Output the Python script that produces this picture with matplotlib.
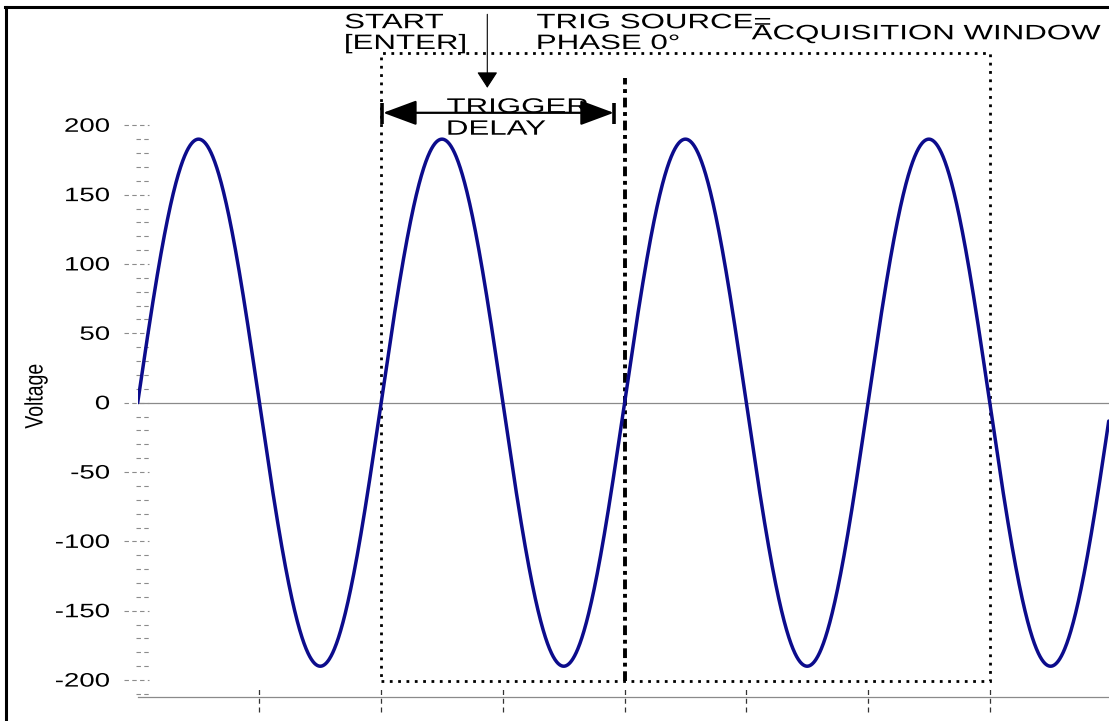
import numpy as np
import matplotlib
matplotlib.use("Agg")
import matplotlib.pyplot as plt
from matplotlib.patches import Rectangle
from matplotlib.lines import Line2D
from matplotlib.patheffects import AbstractPathEffect
from matplotlib.transforms import Affine2D

# ---------------- data ----------------
AMPLITUDE = 190          # volts (peak)
PHASE_END = 1436         # degrees shown on the x axis
phase_deg = np.linspace(0, PHASE_END, 2873)
voltage = AMPLITUDE * np.sin(np.deg2rad(phase_deg))

y_major = [-200, -150, -100, -50, 0, 50, 100, 150, 200]
y_minor = [v for v in range(-210, 200, 10) if v % 50 != 0]
x_ticks = [180, 360, 540, 720, 900, 1080, 1260]

window_phase = [360, 1260]       # acquisition window
window_volt = [-201, 252]
trigger_phase = 720              # trig source phase 0
trigger_top = 234
delay_phase = [362, 705]         # trigger delay
delay_level = 209
start_arrow_phase = 517
start_arrow_volt = [280, 227]

W, H = 1109, 721


class HStretch(AbstractPathEffect):
    """Draw text glyphs stretched horizontally (text stays a Text artist)."""
    def __init__(self, sx=1.42, anchor="left"):
        super().__init__()
        self._sx = sx
        self._anchor = anchor

    def draw_path(self, renderer, gc, tpath, affine, rgbFace=None):
        ext = tpath.get_extents(affine)
        if self._anchor == "left":
            a = ext.x0
        elif self._anchor == "right":
            a = ext.x1
        else:
            a = 0.5 * (ext.x0 + ext.x1)
        t = affine + Affine2D().translate(-a, 0).scale(self._sx, 1).translate(a, 0)
        renderer.draw_path(gc, tpath, t, rgbFace)


plt.rcParams["font.family"] = ["Liberation Sans", "DejaVu Sans"]

fig = plt.figure(figsize=(W / 100, H / 100), dpi=100)
ax = fig.add_axes([137.7 / W, (H - 697) / H, (W - 137.7) / W, (697 - 6) / H])
ax.set_xlim(0, 1436.4)
ax.set_ylim(-212.2, 286)

# waveform
ax.plot(phase_deg, voltage, color="#0c0c8c", lw=2.5, solid_capstyle="round", zorder=3)
ax.axhline(0, color="#8a8a8a", lw=0.9, zorder=1)

# spines
for s in ["left", "top", "right"]:
    ax.spines[s].set_visible(False)
ax.spines["bottom"].set_color("#8a8a8a")
ax.spines["bottom"].set_linewidth(0.9)

# ticks (drawn as dashed marks)
ax.set_yticks(y_major)
ax.set_yticklabels([str(v) for v in y_major])
ax.tick_params(axis="y", length=0, pad=20, labelsize=14)
ax.set_xticks(x_ticks)
ax.set_xticklabels([])
ax.tick_params(axis="x", length=0)
for lbl in ax.get_yticklabels():
    lbl.set_path_effects([HStretch(1.42, "right")])

axw = W - 137.7
axh = 691
yt = ax.get_yaxis_transform()
xt = ax.get_xaxis_transform()
ax.hlines(y_major, -13.7 / axw, 11.3 / axw, transform=yt, colors="#8c8c8c",
          lw=0.8, linestyles=(0, (4, 3)), clip_on=False)
ax.hlines(y_minor, -1.7 / axw, 11.3 / axw, transform=yt, colors="#8c8c8c",
          lw=0.8, linestyles=(0, (4, 3)), clip_on=False)
ax.vlines(x_ticks, -15 / axh, 11 / axh, transform=xt, colors="#333333",
          lw=0.9, linestyles=(0, (4, 3)), clip_on=False)

# y label
ax.set_ylabel("Voltage", fontsize=14)
ax.yaxis.set_label_coords((45 - 137.7) / axw, (697 - 396) / axh)
ax.yaxis.label.set_path_effects([HStretch(1.3, "center")])

# acquisition window (dotted box)
ax.add_patch(Rectangle((window_phase[0], window_volt[0]),
                       window_phase[1] - window_phase[0],
                       window_volt[1] - window_volt[0],
                       fill=False, edgecolor="black", lw=2.0,
                       linestyle=(0, (1, 2.0)), clip_on=False, zorder=2))
# trig source line
ax.plot([trigger_phase, trigger_phase], [window_volt[0], trigger_top], color="black",
        lw=2.8, linestyle=(0, (2.5, 1.2, 1, 1.2)), clip_on=False, zorder=2)

# trigger delay arrow
ax.annotate("", xy=(delay_phase[0] + 1, delay_level), xytext=(delay_phase[1] - 1, delay_level),
            arrowprops=dict(arrowstyle="<|-|>,head_length=21,head_width=7.8",
                            mutation_scale=1, color="black", lw=1.6,
                            shrinkA=0, shrinkB=0), annotation_clip=False)
ax.vlines(delay_phase, delay_level - 8, delay_level + 7, colors="black", lw=2.6,
          clip_on=False)

# start arrow
ax.annotate("", xy=(start_arrow_phase, start_arrow_volt[1]),
            xytext=(start_arrow_phase, start_arrow_volt[0]),
            arrowprops=dict(arrowstyle="-|>,head_length=10,head_width=6.5",
                            mutation_scale=1, color="black", lw=0.8,
                            shrinkA=0, shrinkB=0), annotation_clip=False)

tkw = dict(fontsize=15, ha="left", va="baseline", clip_on=False,
           path_effects=[HStretch(1.5, "left")], zorder=5)
ax.text(306, 255, "START\n[ENTER]", linespacing=1.12, **tkw)
ax.text(590, 255, "TRIG SOURCE=\nPHASE 0°", linespacing=1.12, **tkw)
ax.text(908, 262, "ACQUISITION WINDOW", **tkw)
ax.text(457, 193.2, "TRIGGER\nDELAY", linespacing=1.2, **tkw)

# figure border (top & left)
fig.add_artist(Line2D([5 / W, 1], [1 - 7 / H, 1 - 7 / H], color="black", lw=2.2,
                      transform=fig.transFigure))
fig.add_artist(Line2D([6 / W, 6 / W], [0, 1 - 7 / H], color="black", lw=2.2,
                      transform=fig.transFigure))

fig.savefig("out.png", dpi=100)
